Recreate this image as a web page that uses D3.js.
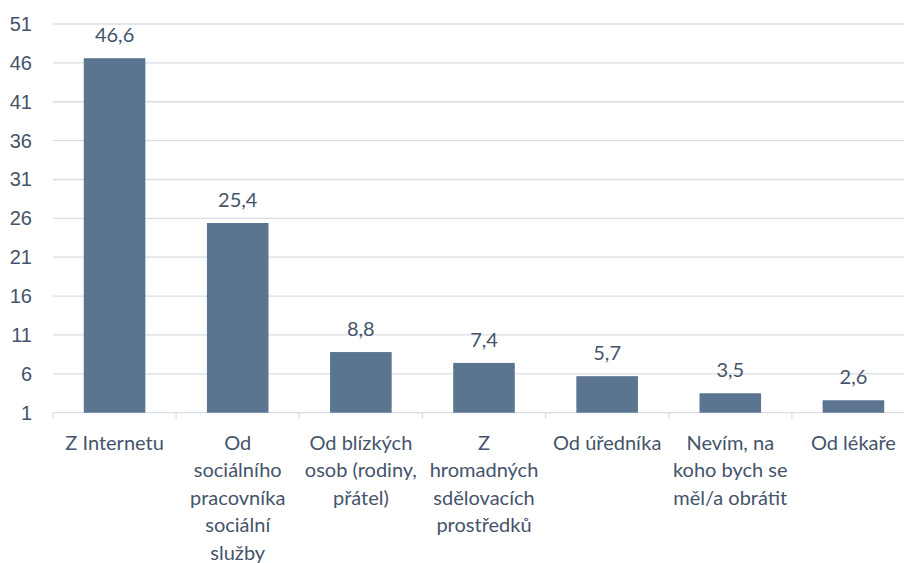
<!DOCTYPE html>
<html>
<head>
<meta charset="utf-8">
<script src="https://cdn.jsdelivr.net/npm/d3@7"></script>
<style>
  body { margin: 0; background: #fff; }
  svg { font-family: Lato, "Open Sans", sans-serif; }
  .tick text { fill: #44546a; font-size: 20px; }
  .label { fill: #44546a; font-size: 20px; }
</style>
</head>
<body>
<svg></svg>
<script>
const CATEGORIES = [
  'Z Internetu',
  'Od\nsociálního\npracovníka\nsociální\nslužby',
  'Od blízkých\nosob (rodiny,\npřátel)',
  'Z\nhromadných\nsdělovacích\nprostředků',
  'Od úředníka',
  'Nevím, na\nkoho bych se\nměl/a obrátit',
  'Od lékaře'
];
const VALUES = [46.6, 25.4, 8.8, 7.4, 5.7, 3.5, 2.6];
const Y_TICKS = [1, 6, 11, 16, 21, 26, 31, 36, 41, 46, 51];

const WIDTH = 904;
const HEIGHT = 563;
const LEFT = 53, RIGHT_EDGE = 915, TOP = 24, BOTTOM = 412.7;

const data = CATEGORIES.map((c, i) => ({ cat: c, value: VALUES[i] }));

const x = d3.scaleBand().domain(CATEGORIES).range([LEFT, RIGHT_EDGE]).paddingInner(0.5).paddingOuter(0.25);
const y = d3.scaleLinear().domain([1, 51]).range([BOTTOM, TOP]);

const svg = d3.select('svg').attr('width', WIDTH).attr('height', HEIGHT);

// gridlines
svg.append('g')
  .selectAll('line')
  .data(Y_TICKS.slice(1))
  .enter()
  .append('line')
  .attr('x1', LEFT).attr('x2', WIDTH)
  .attr('y1', d => y(d)).attr('y2', d => y(d))
  .attr('stroke', '#d9dde3').attr('stroke-width', 1.3);

// y axis labels
const yAxis = svg.append('g')
  .attr('transform', `translate(${LEFT}, 0)`)
  .call(d3.axisLeft(y).tickValues(Y_TICKS).tickSize(0).tickPadding(21));
yAxis.select('.domain').remove();

// x axis
const band = x.step();
const xAxis = svg.append('g').attr('transform', `translate(0, ${BOTTOM})`);
xAxis.append('line')
  .attr('x1', LEFT).attr('x2', WIDTH)
  .attr('stroke', '#d9dde3').attr('stroke-width', 1.3);
xAxis.selectAll('.cat-tick')
  .data(d3.range(CATEGORIES.length + 1))
  .enter()
  .append('line')
  .attr('x1', i => LEFT + i * band).attr('x2', i => LEFT + i * band)
  .attr('y1', 0).attr('y2', 6)
  .attr('stroke', '#d9dde3').attr('stroke-width', 1.3);

// category labels
xAxis.selectAll('.cat')
  .data(data)
  .enter()
  .append('text')
  .attr('class', 'label')
  .attr('text-anchor', 'middle')
  .attr('transform', d => `translate(${x(d.cat) + x.bandwidth() / 2}, 37)`)
  .each(function (d) {
    const t = d3.select(this);
    d.cat.split('\n').forEach((line, i) => {
      t.append('tspan').attr('x', 0).attr('y', i * 27.5).text(line);
    });
  });

// bars
svg.selectAll('.bar')
  .data(data)
  .enter()
  .append('rect')
  .attr('class', 'bar')
  .attr('x', d => x(d.cat))
  .attr('width', x.bandwidth())
  .attr('y', d => y(d.value))
  .attr('height', d => y(1) - y(d.value))
  .attr('fill', '#5b7590');

// value labels
svg.selectAll('.val')
  .data(data)
  .enter()
  .append('text')
  .attr('class', 'label')
  .attr('text-anchor', 'middle')
  .attr('x', d => x(d.cat) + x.bandwidth() / 2)
  .attr('y', d => y(d.value) - 16)
  .text(d => String(d.value).replace('.', ','));
</script>
</body>
</html>
